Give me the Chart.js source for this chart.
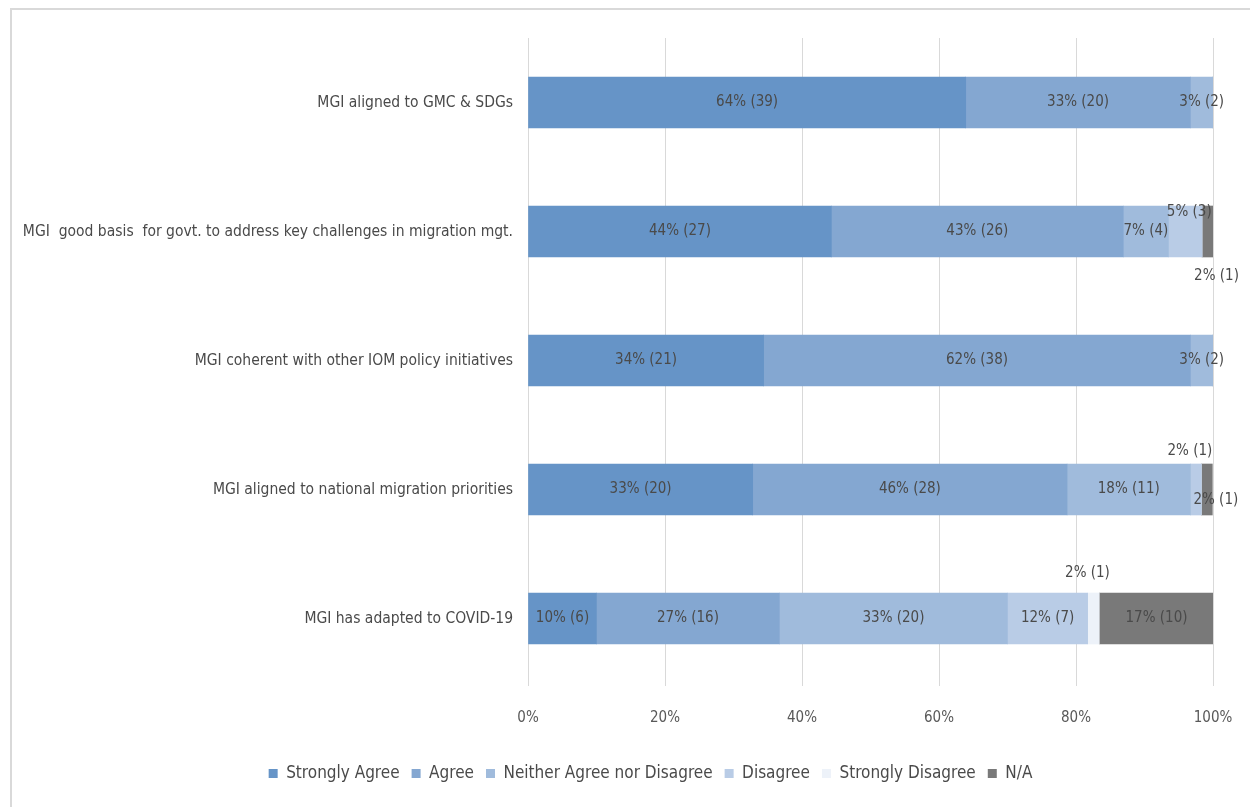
<!DOCTYPE html>
<html>
<head>
<meta charset="utf-8">
<script src="https://cdn.jsdelivr.net/npm/chart.js@4/dist/chart.umd.min.js"></script>
<style>
  html, body { margin: 0; padding: 0; background: #fff; }
  #wrap { width: 1250px; height: 807px; position: relative; }
</style>
</head>
<body>
<div id="wrap"><canvas id="c" width="1250" height="807"></canvas></div>
<script>
// categories, top to bottom
const categories = [
    'MGI aligned to GMC & SDGs',
    'MGI  good basis  for govt. to address key challenges in migration mgt.',
    'MGI coherent with other IOM policy initiatives',
    'MGI aligned to national migration priorities',
    'MGI has adapted to COVID-19'
];
const seriesNames = ['Strongly Agree', 'Agree', 'Neither Agree nor Disagree', 'Disagree', 'Strongly Disagree', 'N/A'];

// shares in %
const stronglyAgree    = [63.9, 44.3, 34.4, 32.8, 10.0];
const agree            = [32.8, 42.6, 62.3, 45.9, 26.7];
const neither          = [3.3, 6.6, 3.3, 18.0, 33.3];
const disagree         = [0, 4.9, 0, 1.6, 11.7];
const stronglyDisagree = [0, 0, 0, 0, 1.7];
const notApplicable    = [0, 1.6, 0, 1.6, 16.7];

// respondent counts shown in brackets
const stronglyAgreeN    = [39, 27, 21, 20, 6];
const agreeN            = [20, 26, 38, 28, 16];
const neitherN          = [2, 4, 2, 11, 20];
const disagreeN         = [0, 3, 0, 1, 7];
const stronglyDisagreeN = [0, 0, 0, 0, 1];
const notApplicableN    = [0, 1, 0, 1, 10];

const xTicks = ['0%', '20%', '40%', '60%', '80%', '100%'];

const COLORS = ['#6694c7', '#84a7d1', '#a0bbdc', '#b9cce6', '#edf2f9', '#797979'];
const TEXT = '#4a4a4a';
const FONT = "'Liberation Sans Narrow', 'DejaVu Sans Condensed', sans-serif";

const values = [stronglyAgree, agree, neither, disagree, stronglyDisagree, notApplicable];
const counts = [stronglyAgreeN, agreeN, neitherN, disagreeN, stronglyDisagreeN, notApplicableN];

// small segments whose label is moved off the bar ("row,dataset": [dx, dy])
const labelNudge = {
    '1,3': [4, -19],
    '1,5': [9, 45],
    '3,3': [-6, -38],
    '3,5': [9, 11],
    '4,4': [-6, -45]
};

const frame = {
    id: 'frame',
    beforeDraw(chart) {
        const ctx = chart.ctx;
        ctx.save();
        ctx.fillStyle = '#fff';
        ctx.fillRect(0, 0, chart.width, chart.height);
        ctx.strokeStyle = '#d9d9d9';
        ctx.lineWidth = 2;
        ctx.beginPath();
        ctx.moveTo(11, chart.height);
        ctx.lineTo(11, 9);
        ctx.lineTo(chart.width, 9);
        ctx.stroke();
        ctx.restore();
    }
};

// the legend in the original sits a bit right of centre
const legendShift = {
    id: 'legendShift',
    afterLayout(chart) {
        chart.legend.left += 88;
    }
};

const segLabels = {
    id: 'segLabels',
    afterDatasetsDraw(chart) {
        const ctx = chart.ctx;
        ctx.save();
        ctx.font = '15px ' + FONT;
        ctx.fillStyle = TEXT;
        ctx.textAlign = 'center';
        ctx.textBaseline = 'middle';
        chart.data.datasets.forEach(function (ds, di) {
            chart.getDatasetMeta(di).data.forEach(function (bar, i) {
                const v = ds.data[i];
                if (!v) return;
                const n = counts[di][i];
                const nudge = labelNudge[i + ',' + di] || [0, 0];
                const cx = (bar.x + bar.base) / 2 + nudge[0];
                ctx.fillText(Math.round(v) + '% (' + n + ')', cx, bar.y + nudge[1]);
            });
        });
        ctx.restore();
    }
};

new Chart(document.getElementById('c'), {
    type: 'bar',
    data: {
        labels: categories,
        datasets: seriesNames.map(function (name, k) {
            return {
                label: name,
                data: values[k],
                backgroundColor: COLORS[k],
                borderWidth: 0,
                barThickness: 51
            };
        })
    },
    options: {
        indexAxis: 'y',
        responsive: false,
        animation: false,
        layout: { padding: { top: 38, right: 37, left: 0, bottom: 15 } },
        plugins: {
            legend: {
                position: 'bottom',
                labels: {
                    boxWidth: 9,
                    boxHeight: 9,
                    padding: 12,
                    color: TEXT,
                    font: { family: FONT, size: 17 }
                }
            },
            tooltip: { enabled: false }
        },
        scales: {
            x: {
                stacked: true,
                min: 0,
                max: 100,
                ticks: {
                    stepSize: 20,
                    padding: 23,
                    color: '#595959',
                    font: { family: FONT, size: 15 },
                    callback: function (v, i) { return xTicks[i]; }
                },
                grid: { color: '#d9d9d9', tickLength: 3 },
                border: { display: false },
                afterFit: function (scale) {
                    scale.height = 70;
                    scale.paddingRight = 0;
                }
            },
            y: {
                stacked: true,
                ticks: {
                    padding: 7,
                    color: TEXT,
                    font: { family: FONT, size: 15.5 }
                },
                grid: { display: false },
                border: { display: true, color: '#d9d9d9' },
                afterFit: function (scale) { scale.width = 528; }
            }
        }
    },
    plugins: [frame, legendShift, segLabels]
});
</script>
</body>
</html>
